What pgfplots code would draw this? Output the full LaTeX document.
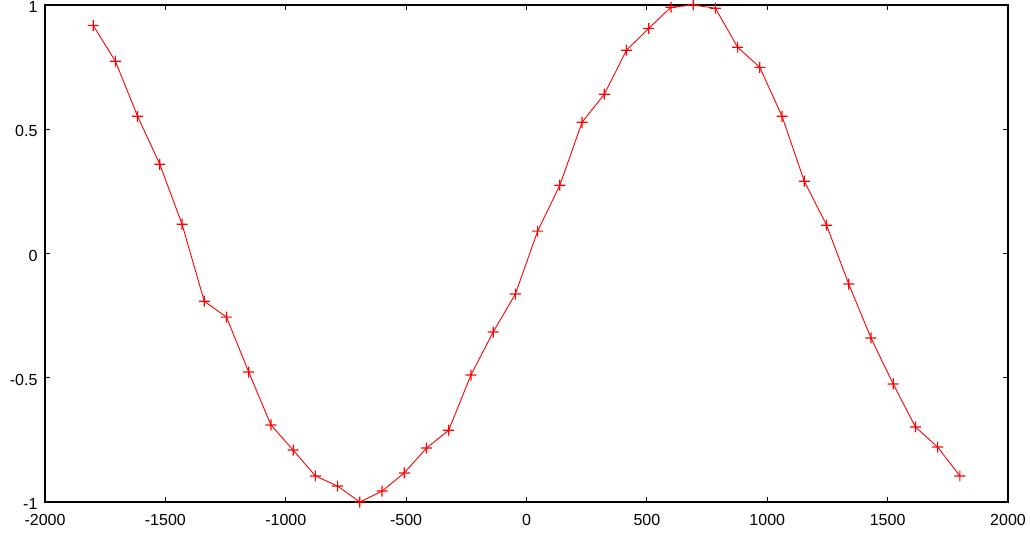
\documentclass[border=0pt]{standalone}
\usepackage{pgfplots}
\pgfplotsset{compat=1.18}
\usepackage{fontspec}
\setmainfont{Liberation Sans}
\pgfdeclareplotmark{fplus}{%
  \pgfpathrectangle{\pgfpoint{-\pgfplotmarksize}{-0.6pt}}{\pgfpoint{2\pgfplotmarksize}{1.2pt}}%
  \pgfpathrectangle{\pgfpoint{-0.6pt}{-\pgfplotmarksize}}{\pgfpoint{1.2pt}{2\pgfplotmarksize}}%
  \pgfusepathqfill}
\begin{document}
\begin{tikzpicture}
\useasboundingbox (-45pt,-34pt) rectangle (985pt,502pt);
\begin{axis}[at={(0pt,0pt)}, anchor=south west, scale only axis,
  width=963pt, height=497pt,
  xmin=-2000, xmax=2000, ymin=-1, ymax=1,
  xtick={-2000,-1500,-1000,-500,0,500,1000,1500,2000},
  ytick={-1,-0.5,0,0.5,1},
  tick align=inside, major tick length=5pt,
  tick style={black, line width=0.8pt},
  axis line style={black, line width=1.3pt},
  /pgf/number format/assume math mode=true,
  /pgf/number format/1000 sep={},
  tick label style={font=\fontsize{16}{19}\selectfont, text=black},
  yticklabel style={xshift=-4pt, yshift=-2pt},
  xticklabel style={yshift=-9pt},
  clip=false,
]
\addplot[color=red, line width=0.9pt, mark=fplus, mark size=5.5pt, mark options={fill=red, draw=none, solid}] coordinates {
(-1800,0.918) (-1707.7,0.774) (-1615.4,0.552) (-1523.1,0.359) (-1430.8,0.118)
(-1338.5,-0.192) (-1246.2,-0.256) (-1153.8,-0.477) (-1061.5,-0.690) (-969.2,-0.791)
(-876.9,-0.895) (-784.6,-0.936) (-692.3,-1.0) (-600.0,-0.956) (-507.7,-0.883)
(-415.4,-0.783) (-323.1,-0.711) (-230.8,-0.489) (-138.5,-0.316) (-46.2,-0.163)
(46.2,0.090) (138.5,0.275) (230.8,0.528) (323.1,0.641) (415.4,0.818)
(507.7,0.906) (600.0,0.991) (692.3,1.0) (784.6,0.987) (876.9,0.830)
(969.2,0.749) (1061.5,0.552) (1153.8,0.291) (1246.2,0.114) (1338.5,-0.123)
(1430.8,-0.340) (1523.1,-0.525) (1615.4,-0.698) (1707.7,-0.779) (1800,-0.895)
};
\end{axis}
\end{tikzpicture}
\end{document}
